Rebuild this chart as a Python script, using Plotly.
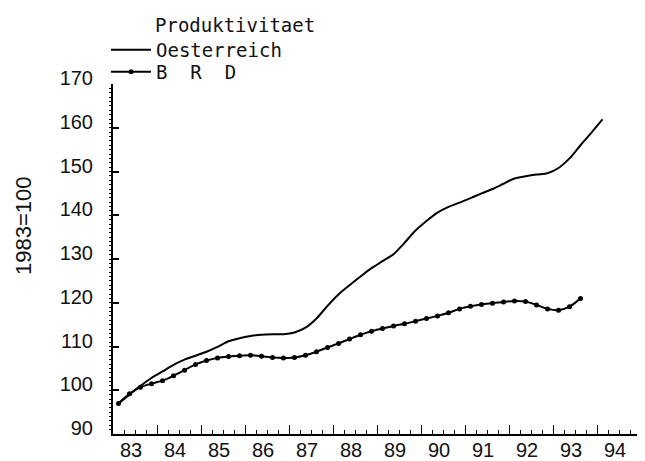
import plotly.graph_objects as go

# ---- data (quarterly index, 1983 = 100) ----
quarters_oe = [
    "83Q1", "83Q2", "83Q3", "83Q4", "84Q1", "84Q2", "84Q3", "84Q4",
    "85Q1", "85Q2", "85Q3", "85Q4", "86Q1", "86Q2", "86Q3", "86Q4",
    "87Q1", "87Q2", "87Q3", "87Q4", "88Q1", "88Q2", "88Q3", "88Q4",
    "89Q1", "89Q2", "89Q3", "89Q4", "90Q1", "90Q2", "90Q3", "90Q4",
    "91Q1", "91Q2", "91Q3", "91Q4", "92Q1", "92Q2", "92Q3", "92Q4",
    "93Q1", "93Q2", "93Q3", "93Q4", "94Q1",
]
oesterreich = [
    97.0, 99.0, 101.0, 102.8, 104.3, 105.8, 107.0, 107.9,
    108.8, 109.9, 111.2, 111.9, 112.4, 112.7, 112.8, 112.8,
    113.2, 114.3, 116.4, 119.3, 121.9, 124.0, 126.0, 127.9,
    129.5, 131.1, 133.7, 136.5, 138.7, 140.6, 141.9, 142.9,
    143.9, 145.0, 146.0, 147.2, 148.4, 148.9, 149.3, 149.6,
    150.8, 153.0, 156.0, 158.9, 161.9,
]

quarters_brd = quarters_oe[:43]
brd = [
    97.0, 99.2, 100.7, 101.5, 102.2, 103.3, 104.6, 105.9,
    106.8, 107.4, 107.7, 107.9, 108.0, 107.8, 107.5, 107.4,
    107.5, 108.0, 108.8, 109.8, 110.7, 111.7, 112.7, 113.5,
    114.1, 114.7, 115.2, 115.8, 116.4, 117.0, 117.7, 118.6,
    119.2, 119.6, 119.9, 120.2, 120.4, 120.3, 119.5, 118.6,
    118.3, 119.1, 121.0,
]

year_labels = ["83", "84", "85", "86", "87", "88", "89", "90", "91", "92", "93", "94", ""]
year_ticks = [1983 + i for i in range(13)]


def q_pos(q):
    """Quarter label -> position on the year axis (quarter centre)."""
    yy = 1900 + int(q[:2])
    n = int(q[3])
    return yy + (n - 1) / 4 + 0.125


x_oe = [q_pos(q) for q in quarters_oe]
x_brd = [q_pos(q) for q in quarters_brd]

fig = go.Figure()
fig.add_trace(go.Scatter(
    x=x_oe, y=oesterreich, name="Oesterreich", mode="lines",
    line=dict(color="black", width=2, shape="spline", smoothing=0.8),
    legend="legend",
))
fig.add_trace(go.Scatter(
    x=x_brd, y=brd, name="B  R  D", mode="lines+markers",
    line=dict(color="black", width=2, shape="spline", smoothing=0.8),
    marker=dict(color="black", size=5, symbol="circle"),
    legend="legend2",
))

tick_font = dict(family="Liberation Sans, Arial, sans-serif", size=20, color="#111")
leg_font = dict(family="DejaVu Sans Mono, monospace", size=19, color="#111")

# page has an 8px body margin -> work in window pixels, offset by 8
OFF = 8
WIN_W, WIN_H = 645, 461
W, H = WIN_W - OFF, WIN_H - OFF
# plot area in window pixels: x 113..641, y 84..434
L = 113 - OFF
T = 84 - OFF
R = W - (641 - OFF)
B = H - (434 - OFF)
PW, PH = W - L - R, H - T - B


def px_x(x):
    return (x - OFF - L) / PW


def px_y(y):
    return (H - B - (y - OFF)) / PH


fig.update_layout(
    width=W, height=H,
    margin=dict(l=L, r=R, t=T, b=B, autoexpand=False),
    paper_bgcolor="white", plot_bgcolor="white",
    showlegend=True,
    legend=dict(
        x=px_x(106), y=px_y(50), xanchor="left", yanchor="middle",
        font=leg_font, itemwidth=40, bgcolor="rgba(0,0,0,0)",
    ),
    legend2=dict(
        x=px_x(106), y=px_y(72), xanchor="left", yanchor="middle",
        font=leg_font, itemwidth=40, bgcolor="rgba(0,0,0,0)",
    ),
    xaxis=dict(
        range=[1983, 1995], showgrid=False, zeroline=False,
        showline=True, linecolor="black", linewidth=2,
        tickmode="array", tickvals=year_ticks, ticktext=year_labels,
        ticks="inside", ticklen=9, tickwidth=1, tickcolor="black",
        ticklabelshift=18, ticklabelstandoff=-3, tickfont=tick_font,
        minor=dict(dtick=0.25, tick0=1983, ticks="inside", ticklen=4,
                   tickwidth=1, tickcolor="black", showgrid=False),
    ),
    yaxis=dict(
        range=[90, 170], showgrid=False, zeroline=False,
        showline=True, linecolor="black", linewidth=2,
        tickmode="linear", tick0=90, dtick=10,
        ticks="inside", ticklen=6, tickwidth=1.5, tickcolor="black",
        ticklabelshift=-6, ticklabelstandoff=14, tickfont=tick_font,
        minor=dict(dtick=1, tick0=90, ticks="outside", ticklen=2,
                   tickwidth=1, tickcolor="black", showgrid=False),
    ),
    annotations=[
        dict(text="Produktivitaet", xref="paper", yref="paper",
             x=px_x(153), y=px_y(25),
             xanchor="left", yanchor="middle", showarrow=False,
             font=leg_font),
        dict(text="1983=100", xref="paper", yref="paper",
             x=px_x(23), y=px_y(226),
             xanchor="center", yanchor="middle", textangle=-90, showarrow=False,
             font=dict(family="Liberation Sans, Arial, sans-serif", size=22, color="#111")),
    ],
)

fig.write_html("out.html")
